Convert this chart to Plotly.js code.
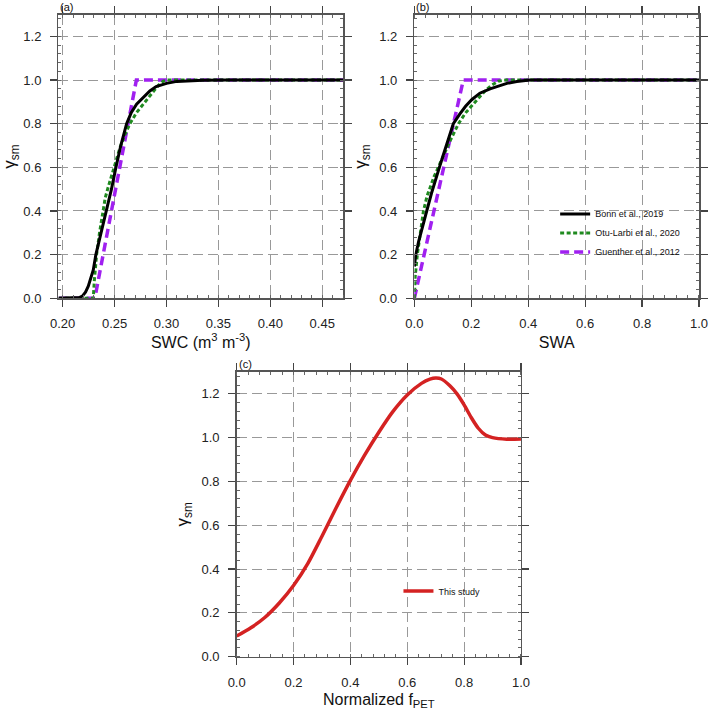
<!DOCTYPE html>
<html>
<head>
<meta charset="utf-8">
<script src="https://cdn.plot.ly/plotly-3.0.1.min.js"></script>
<style>html,body{margin:0;padding:0;background:#fff;}#chart{width:709px;height:710px;}</style>
</head>
<body>
<div id="chart"></div>
<script>
// ---- Panel (a): SWC ----
const swcBonn = [0.196, 0.213, 0.216, 0.219, 0.222, 0.2247, 0.2272, 0.2295, 0.232, 0.2345, 0.237, 0.2397, 0.2424, 0.247, 0.2513, 0.256, 0.2616, 0.266, 0.2712, 0.2776, 0.284, 0.29, 0.30, 0.31, 0.32, 0.335, 0.36, 0.47];
const gBonnA  = [0, 0, 0.003, 0.01, 0.028, 0.055, 0.09, 0.13, 0.2, 0.25, 0.3, 0.35, 0.4, 0.5, 0.6, 0.7, 0.8, 0.85, 0.89, 0.92, 0.95, 0.97, 0.985, 0.994, 0.997, 0.999, 1.0, 1.0];
const swcOtu  = [0.196, 0.2295, 0.2305, 0.2327, 0.2355, 0.2385, 0.241, 0.2439, 0.2497, 0.2552, 0.26, 0.2648, 0.271, 0.2776, 0.2825, 0.2872, 0.292, 0.2969, 0.30, 0.35, 0.47];
const gOtuA   = [0, 0, 0.08, 0.2, 0.3, 0.4, 0.46, 0.51, 0.6, 0.69, 0.75, 0.8, 0.85, 0.89, 0.92, 0.95, 0.975, 0.995, 1.0, 1.0, 1.0];
const swcGue  = [0.196, 0.231, 0.271, 0.47];
const gGueA   = [0, 0, 1.0, 1.0];

// ---- Panel (b): SWA ----
const swaBonn = [0, 0.005, 0.015, 0.03, 0.0435, 0.06, 0.075, 0.088, 0.1, 0.115, 0.137, 0.16, 0.18, 0.2016, 0.23, 0.266, 0.3, 0.325, 0.36, 0.406, 0.5, 0.7, 1.0];
const gBonnB  = [0.145, 0.2, 0.26, 0.34, 0.4, 0.48, 0.55, 0.6, 0.65, 0.71, 0.8, 0.845, 0.88, 0.91, 0.94, 0.96, 0.975, 0.985, 0.993, 1.0, 1.0, 1.0, 1.0];
const swaOtu  = [0, 0.003, 0.0105, 0.02, 0.032, 0.045, 0.055, 0.07, 0.084, 0.1, 0.125, 0.155, 0.18, 0.207, 0.23, 0.248, 0.27, 0.295, 0.32, 0.5, 1.0];
const gOtuB   = [0, 0.1, 0.2, 0.3, 0.4, 0.47, 0.51, 0.56, 0.6, 0.65, 0.72, 0.8, 0.85, 0.89, 0.925, 0.95, 0.975, 0.995, 1.0, 1.0, 1.0];
const swaGue  = [0, 0.172, 1.0];
const gGueB   = [0, 1.0, 1.0];

// ---- Panel (c): normalized fPET ----
const fpet   = [0, 0.05, 0.1, 0.15, 0.2, 0.25, 0.3, 0.35, 0.4, 0.45, 0.5, 0.55, 0.6, 0.65, 0.68, 0.7, 0.72, 0.75, 0.775, 0.8, 0.825, 0.85, 0.875, 0.9, 0.95, 1.0];
const gStudy = [0.094, 0.132, 0.18, 0.245, 0.325, 0.425, 0.55, 0.68, 0.805, 0.92, 1.025, 1.12, 1.195, 1.248, 1.267, 1.272, 1.268, 1.237, 1.2, 1.15, 1.092, 1.043, 1.012, 1.0, 0.993, 0.994];

const seriesNames = ['Bonn et al., 2019', 'Otu-Larbi et al., 2020', 'Guenther et al., 2012', 'This study'];
const panelLabels = ['(a)', '(b)', '(c)'];

const FONT = 'Liberation Sans, Arial, Helvetica, sans-serif';
const cBlack = '#000000', cGreen = '#1f8a1f', cPurple = '#a020f0', cRed = '#d42222';

const blackLine = {color: cBlack, width: 3};
const greenLine = {color: cGreen, width: 3, dash: '4px,2.5px'};
const purpleLine = {color: cPurple, width: 3.5, dash: '9px,5px'};

const traces = [
  {x: swcGue, y: gGueA, xaxis: 'x', yaxis: 'y', mode: 'lines', line: purpleLine, showlegend: false},
  {x: swcOtu, y: gOtuA, xaxis: 'x', yaxis: 'y', mode: 'lines', line: greenLine, showlegend: false},
  {x: swcBonn, y: gBonnA, xaxis: 'x', yaxis: 'y', mode: 'lines', line: blackLine, showlegend: false},
  {x: swaGue, y: gGueB, xaxis: 'x2', yaxis: 'y2', mode: 'lines', line: purpleLine, name: seriesNames[2], legend: 'legend', legendrank: 3},
  {x: swaOtu, y: gOtuB, xaxis: 'x2', yaxis: 'y2', mode: 'lines', line: greenLine, name: seriesNames[1], legend: 'legend', legendrank: 2},
  {x: swaBonn, y: gBonnB, xaxis: 'x2', yaxis: 'y2', mode: 'lines', line: blackLine, name: seriesNames[0], legend: 'legend', legendrank: 1},
  {x: fpet, y: gStudy, xaxis: 'x3', yaxis: 'y3', mode: 'lines', line: {color: cRed, width: 3.5, shape: 'spline', smoothing: 0.8}, name: seriesNames[3], legend: 'legend2'}
];

function xax(domain, range, dtick, minor, fmt, title, anchor) {
  return {
    domain: domain, range: range, anchor: anchor,
    dtick: dtick, tick0: 0, tickformat: fmt,
    showline: true, linecolor: '#555', linewidth: 1.5, mirror: 'ticks',
    ticks: 'outside', ticklen: 7, tickwidth: 1.2, tickcolor: '#444',
    ticklabelstandoff: 6,
    minor: {dtick: minor, ticks: 'inside', ticklen: 3, tickcolor: '#666', tickwidth: 1, showgrid: false},
    showgrid: true, gridcolor: '#999', gridwidth: 1, griddash: '10px,5px',
    zeroline: false, automargin: false,
    tickfont: {family: FONT, size: 13, color: '#222'},
    title: {text: title, font: {family: FONT, size: 16, color: '#111'}, standoff: 6}
  };
}
function yax(domain, anchor) {
  return {
    domain: domain, range: [0, 1.3], anchor: anchor,
    dtick: 0.2, tick0: 0, tickformat: '.1f',
    showline: true, linecolor: '#555', linewidth: 1.5, mirror: 'ticks',
    ticks: 'outside', ticklen: 7, tickwidth: 1.2, tickcolor: '#444',
    ticklabelstandoff: 6,
    minor: {dtick: 0.04, ticks: 'inside', ticklen: 3, tickcolor: '#666', tickwidth: 1, showgrid: false},
    showgrid: true, gridcolor: '#999', gridwidth: 1, griddash: '10px,5px',
    zeroline: false, automargin: false,
    tickfont: {family: FONT, size: 13, color: '#222'},
    title: {text: 'γ<sub>sm</sub>', font: {family: FONT, size: 17, color: '#111'}, standoff: 8}
  };
}

const domA = [0.0825, 0.4838], domB = [0.5844, 0.9859], domC = [0.3338, 0.7348];
const domTop = [0.5799, 0.9794], domBot = [0.0751, 0.4761];

const layout = {
  width: 709, height: 710,
  margin: {l: 0, r: 0, t: 0, b: 0},
  paper_bgcolor: '#fff', plot_bgcolor: '#fff',
  font: {family: FONT, color: '#111'},
  xaxis: xax(domA, [0.196, 0.47], 0.05, 0.01, '.2f', 'SWC (m<sup>3</sup> m<sup>-3</sup>)', 'y'),
  yaxis: yax(domTop, 'x'),
  xaxis2: xax(domB, [0, 1.0], 0.2, 0.04, '.1f', 'SWA', 'y2'),
  yaxis2: yax(domTop, 'x2'),
  xaxis3: xax(domC, [0, 1.0], 0.2, 0.04, '.1f', 'Normalized f<sub>PET</sub>', 'y3'),
  yaxis3: yax(domBot, 'x3'),
  legend: {x: 0.783, y: 0.672, xanchor: 'left', yanchor: 'middle', bgcolor: 'rgba(0,0,0,0)', borderwidth: 0,
           font: {family: FONT, size: 9, color: '#111'}, traceorder: 'normal', itemwidth: 30},
  legend2: {x: 0.562, y: 0.1676, xanchor: 'left', yanchor: 'middle', bgcolor: 'rgba(0,0,0,0)', borderwidth: 0,
           font: {family: FONT, size: 9, color: '#111'}, itemwidth: 30},
  annotations: [
    {text: panelLabels[0], xref: 'paper', yref: 'paper', x: domA[0], y: domTop[1], xanchor: 'left', yanchor: 'bottom', showarrow: false, font: {family: FONT, size: 11, color: '#111'}, yshift: 0},
    {text: panelLabels[1], xref: 'paper', yref: 'paper', x: domB[0], y: domTop[1], xanchor: 'left', yanchor: 'bottom', showarrow: false, font: {family: FONT, size: 11, color: '#111'}, yshift: 0},
    {text: panelLabels[2], xref: 'paper', yref: 'paper', x: domC[0], y: domBot[1], xanchor: 'left', yanchor: 'bottom', showarrow: false, font: {family: FONT, size: 11, color: '#111'}, yshift: 0}
  ]
};

Plotly.newPlot('chart', traces, layout, {displayModeBar: false, staticPlot: true});
</script>
</body>
</html>
